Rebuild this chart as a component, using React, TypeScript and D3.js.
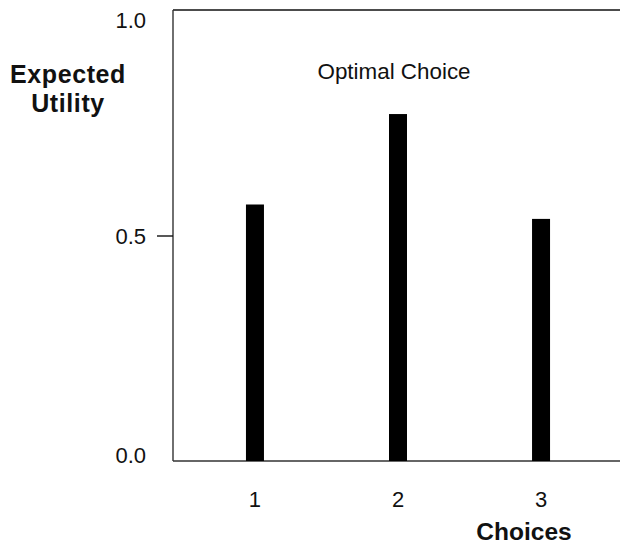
import React from "react";
import * as d3 from "d3";

const categories = [1, 2, 3];
const utilities = [0.57, 0.771, 0.538];
const yTicks = [0, 0.5, 1];
const yTickLabels = ["0.0", "0.5", "1.0"];
const xTickLabels = ["1", "2", "3"];
const yTitle = ["Expected", "Utility"];
const xTitle = "Choices";
const annotation = "Optimal Choice";

const W = 620;
const H = 554;
const left = 173;
const right = 620;
const top = 10;
const bottom = 461;
const font = "'Liberation Sans', Arial, Helvetica, sans-serif";
const ink = "#111";

export default function App() {
  const x = d3.scaleLinear().domain([0.427, 3.552]).range([left, right]);
  const y = d3.scaleLinear().domain([0, 1]).range([bottom, top + 1]);
  const barW = 18;
  const clampY = (v: number) => Math.min(Math.max(y(v), top + 10), bottom - 6);

  return (
    <svg
      width={W}
      height={H}
      style={{ position: "absolute", left: 0, top: 0, background: "#fff" }}
      fontFamily={font}
    >
      {/* frame */}
      <line x1={left} x2={right} y1={top} y2={top} stroke={ink} strokeWidth={1.6} />
      <line x1={left} x2={left} y1={top} y2={bottom} stroke="#333" strokeWidth={1.4} />
      <line x1={left} x2={right} y1={bottom} y2={bottom} stroke="#333" strokeWidth={1.6} />

      {/* y ticks */}
      {yTicks.map((t, i) => (
        <g key={t}>
          {t > 0 && t < 1 && (
            <line x1={left - 16} x2={left} y1={y(t)} y2={y(t)} stroke={ink} strokeWidth={1.4} />
          )}
          <text
            x={146}
            y={clampY(t)}
            dy="0.35em"
            textAnchor="end"
            fontSize={22}
            fill={ink}
          >
            {yTickLabels[i]}
          </text>
        </g>
      ))}

      {/* bars */}
      {categories.map((c, i) => (
        <rect
          key={c}
          x={x(c) - barW / 2}
          y={y(utilities[i])}
          width={barW}
          height={y(0) - y(utilities[i])}
          fill="#000"
        />
      ))}

      {/* x tick labels */}
      {categories.map((c, i) => (
        <text key={c} x={x(c)} y={507} textAnchor="middle" fontSize={22} fill={ink}>
          {xTickLabels[i]}
        </text>
      ))}

      {/* titles */}
      <text x={524} y={540} textAnchor="middle" fontSize={24.5} fontWeight="bold" fill={ink}>
        {xTitle}
      </text>
      <text x={68} y={83} textAnchor="middle" fontSize={25} letterSpacing={0.6} fontWeight="bold" fill={ink}>
        {yTitle[0]}
      </text>
      <text x={68} y={112} textAnchor="middle" fontSize={25} letterSpacing={0.6} fontWeight="bold" fill={ink}>
        {yTitle[1]}
      </text>
      <text x={394} y={79} textAnchor="middle" fontSize={22.4} fill={ink}>
        {annotation}
      </text>
    </svg>
  );
}
